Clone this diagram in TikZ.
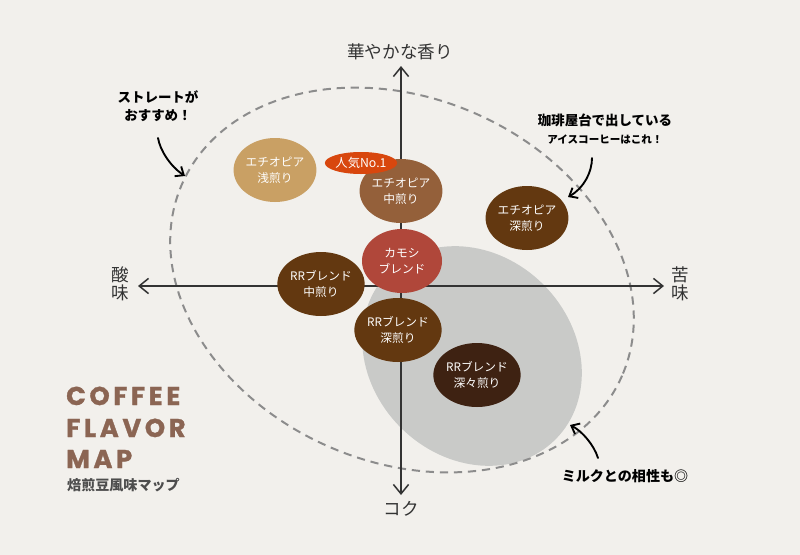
\documentclass[tikz,border=0pt]{standalone}
\usepackage{fontspec}
\setmainfont{Noto Sans CJK JP}
\newfontfamily\titlefont{Poppins}[LetterSpace=14,FakeBold=1.2]
\usetikzlibrary{positioning,shapes.geometric,arrows.meta}

\definecolor{paper}{HTML}{F2F0EC}
\definecolor{milkgray}{HTML}{C9CAC8}
\definecolor{dashcol}{HTML}{8C8C8C}
\definecolor{axisgray}{HTML}{333333}
\definecolor{lightroast}{HTML}{C9A064}
\definecolor{midroast}{HTML}{94603A}
\definecolor{darkroast}{HTML}{633810}
\definecolor{deeproast}{HTML}{3E2212}
\definecolor{kamoshired}{HTML}{B0473A}
\definecolor{popular}{HTML}{D8470E}
\definecolor{titlebrown}{HTML}{8B6553}
\definecolor{subgray}{HTML}{4D4D4D}

\begin{document}
\begin{tikzpicture}[x=0.03cm,y=-0.03cm,
    bean/.style={ellipse,minimum width=2.4cm,minimum height=1.92cm,inner sep=0pt,text=white,align=center,font=\fontsize{10}{13.5}\selectfont},
    axisline/.style={line width=1.3pt,draw=axisgray,{Straight Barb[length=8pt,width=13pt]}-{Straight Barb[length=8pt,width=13pt]}},
    axislabel/.style={inner sep=0pt,align=center,text=axisgray,font=\fontsize{15}{15.4}\selectfont},
    memo/.style={inner sep=0pt,align=center,text=black,font=\bfseries\fontsize{11.5}{15.5}\selectfont},
    memoarrow/.style={line width=1.6pt,line cap=round,-{Straight Barb[length=6pt,width=10pt]}}]
    % Paper
    \fill[paper] (0,0) rectangle (800,555);

    % Milk zone and the dashed "straight" zone
    \fill[milkgray,rotate around={-45:(472,356)}] (472,356) ellipse [x radius=118,y radius=101];
    \draw[dashcol,line width=1.7pt,dash pattern=on 7pt off 5pt,rotate around={-23.5:(402,280)}] (402,280) ellipse [x radius=240,y radius=182];

    % Axes
    \coordinate (ytop) at (401,66);
    \coordinate (ybot) at (401,495);
    \coordinate (xleft) at (138,286);
    \coordinate (xright) at (664,286);
    \draw[axisline] (ybot) -- (ytop);
    \draw[axisline] (xleft) -- (xright);

    \node[axislabel] (aroma) at (400,52) {華やかな香り};
    \node[axislabel] (acid) at (120,284) {酸\\味};
    \node[axislabel] (bitter) at (680,284) {苦\\味};
    \node[axislabel] (body) at (401,509) {コク};

    % Beans
    \node[bean,fill=lightroast] (ethLight) at (275,170) {エチオピア\\浅煎り};
    \node[bean,fill=midroast] (ethMedium) at (401,191) {エチオピア\\中煎り};
    \node[bean,fill=darkroast] (ethDark) at (527,218) {エチオピア\\深煎り};
    \node[bean,fill=kamoshired] (kamoshi) at (402,261) {カモシ\\ブレンド};
    \node[bean,fill=darkroast] (rrMedium) at (321,284) {RRブレンド\\中煎り};
    \node[bean,fill=darkroast] (rrDark) at (398,330) {RRブレンド\\深煎り};
    \node[bean,fill=deeproast] (rrDeep) at (477,375) {RRブレンド\\深々煎り};
    \node[ellipse,fill=popular,text=white,minimum width=1.95cm,minimum height=0.66cm,inner sep=0pt,font=\fontsize{10.5}{12}\selectfont] (popularTag) at (361,163) {人気No.1};

    % Hand notes
    \node[memo] (straightNote) at (158,106) {ストレートが\\おすすめ！};
    \coordinate (straightFrom) at (158,138);
    \coordinate (straightTo) at (185,176);
    \draw[memoarrow] (straightFrom) .. controls (160,150) and (170,166) .. (straightTo);

    \node[memo] (icedNote) at (605,129) {珈琲屋台で出している\\{\fontsize{9}{16}\selectfont アイスコーヒーはこれ！}};
    \coordinate (icedFrom) at (592,158);
    \coordinate (icedTo) at (568,197);
    \draw[memoarrow] (icedFrom) .. controls (592,172) and (584,188) .. (icedTo);

    \node[memo,font=\bfseries\fontsize{12}{14}\selectfont] (milkNote) at (625,476) {ミルクとの相性も◎};
    \coordinate (milkFrom) at (598,458);
    \coordinate (milkTo) at (570,425);
    \draw[memoarrow] (milkFrom) .. controls (594,445) and (582,431) .. (milkTo);

    % Title
    \node[anchor=base west,inner sep=0pt,text=titlebrown,font=\titlefont\bfseries\fontsize{22}{27}\selectfont] (titleCoffee) at (66,405) {COFFEE};
    \node[anchor=base west,inner sep=0pt,text=titlebrown,font=\titlefont\bfseries\fontsize{22}{27}\selectfont] (titleFlavor) at (66,437) {FLAVOR};
    \node[anchor=base west,inner sep=0pt,text=titlebrown,font=\titlefont\bfseries\fontsize{22}{27}\selectfont] (titleMap) at (66,468) {MAP};
    \node[anchor=base west,inner sep=0pt,text=subgray,font=\bfseries\fontsize{12}{14}\selectfont] (subtitle) at (67,490) {焙煎豆風味マップ};
\end{tikzpicture}
\end{document}
